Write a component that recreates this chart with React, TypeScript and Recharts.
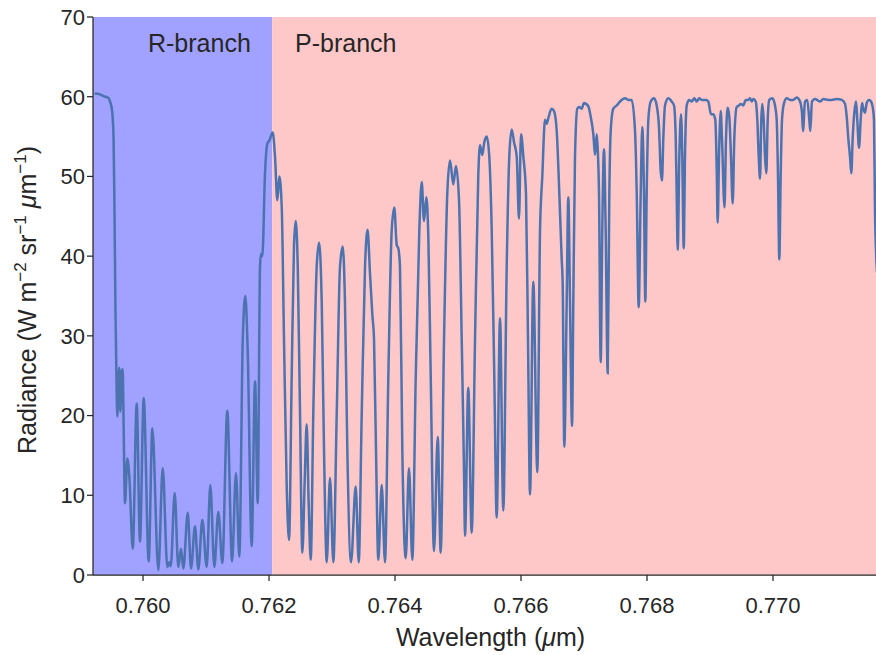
import React from 'react';
import { LineChart, Line, XAxis, YAxis, ReferenceArea, ReferenceDot } from 'recharts';

// Spectrum samples: [wavelength (µm), radiance (W m^-2 sr^-1 µm^-1)]
const rBranchSpectrum: [number, number][] = [
  [0.759233, 60.4], [0.759317, 60.3], [0.759397, 60.0], [0.759444, 59.9], [0.759476, 59.4], [0.759508, 58.3], [0.759532, 55.0], [0.759548, 45.0], [0.759563, 33.0], [0.759576, 26.1],
  [0.759592, 19.9], [0.759608, 24.0], [0.759624, 26.0], [0.75964, 20.5], [0.759659, 25.5], [0.759678, 25.8], [0.75969, 20.0], [0.759714, 9.0], [0.759751, 14.6], [0.759783, 12.3],
  [0.759837, 3.3], [0.7599, 21.5], [0.759952, 4.2], [0.760011, 22.2], [0.76009, 1.7], [0.760148, 18.4], [0.760243, 0.6], [0.760313, 13.4], [0.760386, 1.0], [0.760413, 1.6],
  [0.76044, 1.1], [0.760503, 10.3], [0.76056, 1.0], [0.760603, 3.3], [0.76064, 0.8], [0.76071, 7.8], [0.760762, 0.8], [0.760825, 6.1], [0.760878, 0.7], [0.760941, 6.9],
  [0.761011, 1.0], [0.761068, 11.3], [0.761132, 1.0], [0.761195, 7.9], [0.761259, 1.5], [0.761338, 20.6], [0.761413, 1.7], [0.761476, 12.8], [0.761529, 2.3], [0.761583, 29.5],
  [0.761624, 35.0], [0.761662, 28.0], [0.761725, 3.6], [0.761778, 24.3], [0.761821, 9.0], [0.761857, 38.7], [0.761873, 40.3], [0.761894, 40.0], [0.761937, 50.5], [0.761973, 54.1],
  [0.762005, 54.5], [0.762059, 55.5],
];

const pBranchSpectrum: [number, number][] = [
  [0.762095, 52.5], [0.762132, 47.0], [0.762164, 50.0], [0.762202, 46.1], [0.762238, 29.5], [0.762281, 11.1], [0.762318, 4.4], [0.76236, 24.9], [0.762397, 41.5], [0.762424, 44.4],
  [0.762456, 38.7], [0.762492, 20.3], [0.762529, 2.8], [0.762567, 12.0], [0.762598, 18.9], [0.76263, 8.8], [0.762662, 1.9], [0.762703, 20.3], [0.762757, 38.7], [0.762794, 41.7],
  [0.762837, 34.1], [0.762873, 15.7], [0.762916, 1.6], [0.762968, 12.2], [0.763021, 1.6], [0.763075, 20.3], [0.763127, 38.7], [0.76317, 41.2], [0.763206, 34.1], [0.763243, 15.7],
  [0.763302, 1.6], [0.763376, 11.1], [0.763424, 1.6], [0.763471, 20.0], [0.763524, 38.7], [0.763564, 43.3], [0.763603, 37.8], [0.76364, 32.7], [0.763667, 29.5], [0.763698, 15.7],
  [0.763735, 1.9], [0.763789, 11.3], [0.763841, 1.6], [0.763894, 24.9], [0.763948, 43.3], [0.763989, 46.1], [0.764027, 41.4], [0.764052, 41.0], [0.764079, 38.7], [0.764116, 15.7],
  [0.76417, 2.1], [0.764222, 13.4], [0.764275, 1.9], [0.764329, 24.9], [0.764386, 43.3], [0.764424, 49.3], [0.76446, 44.4], [0.764497, 47.4], [0.764529, 42.4], [0.764567, 24.9],
  [0.764619, 3.0], [0.764678, 17.3], [0.764725, 2.8], [0.764778, 29.5], [0.76483, 47.9], [0.764873, 52.0], [0.764925, 49.0], [0.764968, 51.3], [0.765016, 47.0], [0.765059, 29.5],
  [0.765095, 13.4], [0.765111, 4.9], [0.765163, 23.5], [0.765217, 5.3], [0.76527, 29.5], [0.765322, 50.2], [0.765349, 53.9], [0.765386, 52.7], [0.765417, 54.3], [0.765456, 55.0],
  [0.765497, 52.4], [0.765535, 43.3], [0.765576, 24.9], [0.765614, 7.2], [0.765667, 32.2], [0.765719, 8.1], [0.765773, 38.7], [0.765814, 52.5], [0.765852, 55.9], [0.765889, 54.3],
  [0.765932, 52.5], [0.765968, 44.7], [0.766, 55.3], [0.766037, 52.5], [0.766079, 47.9], [0.766111, 29.5], [0.766143, 10.1], [0.766195, 36.8], [0.766259, 12.9], [0.766302, 43.3],
  [0.766338, 50.0], [0.766381, 57.1], [0.766408, 56.6], [0.766433, 57.3], [0.766487, 58.5], [0.766524, 58.2], [0.766567, 55.7], [0.766608, 47.9], [0.766646, 39.6], [0.766662, 36.4],
  [0.766687, 16.1], [0.766725, 34.1], [0.766751, 47.4], [0.766778, 34.1], [0.76681, 18.7], [0.76683, 34.1], [0.766857, 52.5], [0.766894, 58.5], [0.766925, 58.7], [0.766963, 58.5],
  [0.767, 59.2], [0.767068, 58.8], [0.767106, 57.5], [0.767148, 55.3], [0.767175, 52.7], [0.767202, 55.3], [0.767218, 53.4], [0.767238, 47.9], [0.767265, 26.7], [0.76729, 43.3],
  [0.767317, 53.4], [0.767344, 43.3], [0.767376, 25.3], [0.767402, 47.9], [0.767424, 55.7], [0.767465, 58.5], [0.767519, 58.9], [0.767571, 59.4], [0.767651, 59.8], [0.767703, 59.6],
  [0.767757, 59.6], [0.76781, 55.7], [0.767837, 47.9], [0.767868, 33.6], [0.7679, 47.9], [0.767925, 56.2], [0.767952, 47.9], [0.767973, 34.3], [0.767995, 47.9], [0.768021, 57.1],
  [0.768059, 59.4], [0.768111, 59.8], [0.768154, 58.9], [0.76819, 56.2], [0.768218, 50.6], [0.768238, 49.5], [0.768259, 54.8], [0.768286, 58.9], [0.768338, 59.8], [0.768392, 59.4],
  [0.768429, 58.9], [0.768456, 54.8], [0.768471, 47.9], [0.768487, 40.8], [0.768513, 52.5], [0.76854, 57.8], [0.76856, 52.5], [0.768583, 41.0], [0.768603, 52.5], [0.76863, 58.9],
  [0.768667, 59.6], [0.76871, 59.4], [0.768751, 59.8], [0.768789, 59.4], [0.76883, 59.8], [0.768868, 59.6], [0.768937, 59.6], [0.768973, 59.4], [0.769016, 57.8], [0.769052, 57.8],
  [0.769084, 57.1], [0.769106, 51.1], [0.769122, 44.2], [0.769143, 52.5], [0.76917, 58.2], [0.76919, 54.8], [0.76923, 46.1], [0.769254, 54.8], [0.769281, 58.6], [0.769306, 57.5],
  [0.769333, 52.5], [0.76936, 46.6], [0.769386, 54.8], [0.769424, 58.7], [0.76946, 58.9], [0.769487, 59.1], [0.769529, 58.9], [0.769567, 59.6], [0.769608, 59.6], [0.769635, 59.8],
  [0.769662, 59.4], [0.769687, 59.7], [0.769725, 59.4], [0.769751, 57.1], [0.769773, 52.5], [0.769794, 49.7], [0.769814, 57.1], [0.76983, 59.1], [0.769852, 57.1], [0.769873, 52.5],
  [0.769894, 50.4], [0.769916, 57.1], [0.769941, 59.6], [0.769989, 59.8], [0.770032, 58.9], [0.770059, 57.1], [0.770079, 50.2], [0.7701, 39.6], [0.770122, 50.2], [0.770143, 57.1],
  [0.770175, 59.2], [0.770218, 59.8], [0.77027, 59.6], [0.770322, 59.6], [0.770376, 59.9], [0.770429, 59.4], [0.77046, 58.0], [0.770476, 55.7], [0.770508, 59.4], [0.770544, 59.6],
  [0.770576, 57.1], [0.770592, 55.7], [0.770619, 59.4], [0.770667, 59.7], [0.770746, 59.4], [0.770798, 59.7], [0.770878, 59.6], [0.770932, 59.6], [0.771011, 59.7], [0.771091, 59.6],
  [0.771143, 59.1], [0.77117, 57.5], [0.771195, 54.8], [0.771222, 52.5], [0.771243, 50.4], [0.771265, 54.8], [0.771291, 58.0], [0.771318, 59.4], [0.771338, 57.1], [0.771365, 53.6],
  [0.771392, 57.1], [0.771413, 59.2], [0.771433, 58.5], [0.77146, 58.0], [0.771487, 59.2], [0.771524, 59.6], [0.771556, 59.4], [0.771583, 58.7], [0.771603, 57.1], [0.771619, 45.8],
  [0.771651, 38.0],
];

const xDomain: [number, number] = [0.759206, 0.771635];
const yDomain: [number, number] = [0, 70];
const branchBoundary = 0.76205;
const xTicks = [0.76, 0.762, 0.764, 0.766, 0.768, 0.77];
const yTicks = [0, 10, 20, 30, 40, 50, 60, 70];
const branchLabels = [
  { name: 'R-branch', wl: 0.760079, rad: 66.7 },
  { name: 'P-branch', wl: 0.762413, rad: 66.7 },
];

const data = [...rBranchSpectrum, ...pBranchSpectrum].map(([wl, rad]) => ({ wl, rad }));

const FONT = '"Liberation Sans", Arial, Helvetica, sans-serif';
const TEXT = '#262626';

const XLabel = (props: any) => {
  const vb = props.viewBox || { x: 93, y: 575, width: 783, height: 80 };
  return (
    <text x={vb.x + vb.width / 2 + 6} y={vb.y + 71} textAnchor="middle" fill={TEXT} fontSize={25} fontFamily={FONT}>
      Wavelength (<tspan fontStyle="italic">μ</tspan>m)
    </text>
  );
};

const YLabel = (props: any) => {
  const vb = props.viewBox || { x: 0, y: 17, width: 93, height: 558 };
  const cx = 36;
  const cy = vb.y + vb.height / 2 + 4;
  return (
    <text x={cx} y={cy} transform={`rotate(-90, ${cx}, ${cy})`} textAnchor="middle" fill={TEXT} fontSize={25} fontFamily={FONT}>
      Radiance (W m<tspan dy={-10} fontSize={17}>−2</tspan>
      <tspan dy={10}> sr</tspan><tspan dy={-10} fontSize={17}>−1</tspan>
      <tspan dy={10}> </tspan><tspan fontStyle="italic">μ</tspan>m<tspan dy={-10} fontSize={17}>−1</tspan>
      <tspan dy={10}>)</tspan>
    </text>
  );
};

export default function App() {
  return (
    <div style={{ position: 'absolute', left: 0, top: 0, width: 876, height: 655, background: '#fff' }}>
      <LineChart width={876} height={655} data={data} margin={{ top: 17, right: 0, bottom: 0, left: 0 }}>
        <ReferenceArea x1={xDomain[0]} x2={branchBoundary} y1={yDomain[0]} y2={yDomain[1]} fill="#a1a1ff" fillOpacity={1} stroke="none" ifOverflow="hidden" />
        <ReferenceArea x1={branchBoundary} x2={xDomain[1]} y1={yDomain[0]} y2={yDomain[1]} fill="#ffc8c8" fillOpacity={1} stroke="none" ifOverflow="hidden" />
        <XAxis
          type="number"
          dataKey="wl"
          domain={xDomain}
          allowDataOverflow
          ticks={xTicks}
          tickFormatter={(v: number) => v.toFixed(3)}
          height={80}
          tickSize={6}
          tickMargin={16}
          axisLine={{ stroke: TEXT, strokeWidth: 1.25 }}
          tickLine={{ stroke: TEXT, strokeWidth: 1.25 }}
          tick={{ fill: TEXT, fontSize: 22, fontFamily: FONT }}
          label={{ content: XLabel }}
        />
        <YAxis
          type="number"
          domain={yDomain}
          allowDataOverflow
          ticks={yTicks}
          width={93}
          tickSize={6}
          tickMargin={2}
          axisLine={{ stroke: TEXT, strokeWidth: 1.25 }}
          tickLine={{ stroke: TEXT, strokeWidth: 1.25 }}
          tick={{ fill: TEXT, fontSize: 22, fontFamily: FONT }}
          label={{ content: YLabel }}
        />
        <Line dataKey="rad" type="monotone" stroke="#4c72b0" strokeWidth={2.5} dot={false} isAnimationActive={false} />
        {branchLabels.map((b) => (
          <ReferenceDot
            key={b.name}
            x={b.wl}
            y={b.rad}
            r={0}
            fill="none"
            stroke="none"
            label={{ value: b.name, position: 'right', offset: 0, fill: TEXT, fontSize: 25, fontFamily: FONT }}
          />
        ))}
      </LineChart>
    </div>
  );
}
